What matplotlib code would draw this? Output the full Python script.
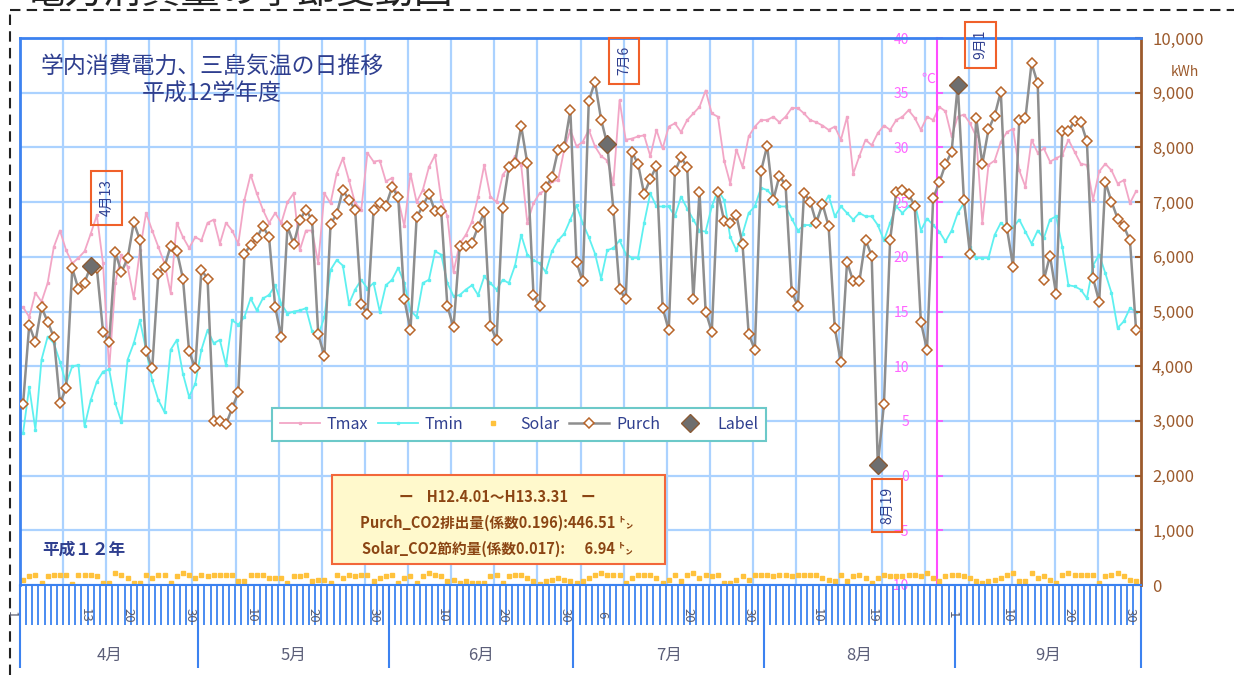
import matplotlib
matplotlib.use("Agg")
import matplotlib.pyplot as plt
import matplotlib.transforms as mtransforms
from matplotlib.lines import Line2D
from matplotlib.patches import Rectangle
import numpy as np

plt.rcParams['font.family'] = ['Noto Sans CJK JP', 'DejaVu Sans']

# daily values 4/2 .. 9/30 (kWh)
purch = [3310, 4750, 4440, 5080, 4810, 4530, 3320, 3600, 5790, 5410,
         5530, 5830, 5790, 4630, 4440, 6080, 5720, 5970, 6630, 6310,
         4270, 3960, 5690, 5820, 6200, 6110, 5600, 4270, 3960, 5760,
         5600, 2990, 2990, 2940, 3230, 3520, 6050, 6220, 6340, 6560,
         6360, 5080, 4530, 6560, 6230, 6670, 6860, 6670, 4580, 4190,
         6600, 6780, 7220, 7040, 6860, 5140, 4950, 6860, 6990, 6930,
         7270, 7100, 5220, 4660, 6720, 6930, 7150, 6830, 6830, 5100,
         4710, 6200, 6200, 6250, 6550, 6810, 4740, 4480, 6900, 7640,
         7710, 8390, 7710, 5310, 5100, 7280, 7450, 7950, 8010, 8680,
         5900, 5550, 8850, 9200, 8510, 8060, 6860, 5410, 5220, 7920,
         7700, 7150, 7420, 7660, 5070, 4660, 7560, 7820, 7640, 5220,
         7190, 5000, 4630, 7190, 6660, 6620, 6760, 6230, 4590, 4300,
         7560, 8030, 7040, 7480, 7310, 5360, 5100, 7160, 7010, 6620,
         6970, 6560, 4700, 4070, 5910, 5550, 5550, 6310, 6020, 2190,
         3310, 6310, 7190, 7230, 7150, 6930, 4810, 4300, 7070, 7360,
         7690, 7920, 9140, 7040, 6050, 8540, 7700, 8330, 8580, 9020,
         6520, 5820, 8510, 8530, 9540, 9170, 5580, 6020, 5320, 8300,
         8300, 8480, 8470, 8110, 5610, 5180, 7370, 7010, 6700, 6560,
         6300, 4660]

solar = [100, 160, 190, 40, 160, 190, 190, 190, 10, 190, 190, 190, 160, 40, 40, 220, 190, 130, 40, 40,
         190, 130, 190, 190, 40, 160, 220, 190, 130, 190, 160, 190, 190, 190, 190, 70, 70, 190, 190, 190,
         130, 130, 130, 40, 160, 160, 190, 70, 100, 100, 40, 190, 130, 190, 160, 190, 190, 70, 130, 160,
         190, 40, 130, 160, 40, 160,
         220, 190, 160, 70, 100, 40, 70, 40, 40, 40, 160, 190, 40, 160, 190, 190, 130, 70, 10, 70,
         100, 130, 100, 70, 40, 70, 130, 190, 220, 190, 190, 190, 40, 130, 190, 190, 190, 130, 40, 100,
         190, 70, 190, 220, 130, 190, 160, 190, 40, 40, 100, 160, 100, 190, 190, 190, 160, 190, 190, 160,
         190, 190, 190, 190, 130, 100, 70,
         190, 70, 160, 190, 130, 40, 130, 190, 160, 160, 160, 190, 190, 160, 220, 130, 70, 160, 190, 190,
         160, 130, 70, 40, 70, 100, 130, 190, 220, 70, 70, 220, 130, 160, 100, 40, 190, 220, 190, 190,
         190, 190, 40, 160, 190, 220, 160, 100, 70]

# Mishima daily max / min temperature (deg C)
tmax = [15.4, 14.5, 16.7, 15.9, 17.6, 20.9, 22.4, 20.6, 19.4, 19.9,
        20.5, 22.1, 23.8, 19.4, 9.7, 17.6, 20.2, 19.1, 16.2, 20.6,
        24.0, 22.4, 20.9, 19.4, 16.7, 23.1, 21.8, 20.8, 21.8, 21.5,
        23.1, 23.4, 21.2, 23.1, 22.4, 21.2, 25.2, 27.5, 25.8, 24.3,
        23.1, 24.0, 23.1, 25.0, 25.8, 20.6, 22.4, 22.4, 19.4, 25.8,
        24.9, 27.6, 29.0, 27.0, 24.9, 24.3, 29.5, 28.7, 28.8, 26.9,
        27.2, 25.3, 22.8, 27.6, 25.0, 26.1, 28.2, 29.3, 25.2, 23.7,
        18.6, 21.2, 22.0, 23.2, 25.5, 28.4, 25.5, 25.0, 27.5, 28.2,
        29.2, 28.4, 23.1, 24.9, 25.8, 26.1, 26.9, 27.0, 29.8, 31.6,
        30.1, 30.5, 31.6, 30.1, 29.2, 28.8, 26.7, 34.3, 30.7, 30.8,
        31.0, 31.1, 29.2, 31.6, 29.9, 31.9, 32.2, 31.4, 32.5, 33.1,
        33.7, 35.2, 33.1, 32.8, 28.8, 26.7, 29.8, 28.2, 31.0, 31.9,
        32.5, 32.5, 32.8, 32.3, 32.8, 33.6, 33.6, 33.1, 32.5, 32.3,
        32.0, 31.6, 31.9, 30.7, 32.8, 27.6, 29.2, 30.7, 30.2, 31.3,
        32.0, 31.6, 32.5, 32.8, 33.4, 32.7, 31.6, 32.8, 32.5, 33.7,
        33.3, 31.0, 32.8, 33.0, 32.2, 31.0, 23.1, 28.4, 28.8, 30.5,
        31.4, 31.7, 27.9, 26.4, 30.7, 29.5, 29.9, 28.7, 29.0, 29.3,
        30.7, 29.6, 28.5, 28.4, 25.2, 27.8, 28.5, 27.9, 26.7, 27.0,
        24.9, 26.0]

tmin = [3.9, 8.1, 4.2, 10.6, 12.7, 12.1, 10.4, 8.4, 10.0, 10.1,
        4.5, 6.9, 8.6, 9.5, 9.7, 6.6, 4.9, 10.6, 12.1, 14.2,
        11.5, 8.7, 6.9, 5.8, 11.5, 12.4, 9.3, 7.2, 8.4, 11.5,
        13.3, 12.1, 12.4, 10.1, 14.2, 13.8, 14.5, 16.2, 15.1, 16.2,
        16.5, 17.4, 15.7, 14.8, 15.0, 15.1, 15.3, 13.2, 12.8, 14.5,
        18.8, 19.7, 19.2, 15.7, 17.0, 17.9, 17.1, 17.6, 15.0, 17.4,
        17.9, 19.0, 17.6, 15.1, 14.5, 17.6, 17.9, 20.5, 20.2, 17.6,
        16.4, 16.5, 17.0, 17.4, 16.5, 18.2, 17.6, 17.0, 17.9, 17.6,
        19.2, 22.0, 20.2, 19.7, 19.4, 18.6, 20.5, 21.5, 22.1, 23.4,
        24.7, 23.1, 21.8, 20.3, 18.0, 20.6, 20.8, 21.5, 20.3, 19.9,
        19.9, 23.1, 25.8, 24.6, 24.6, 24.6, 23.7, 25.5, 24.4, 23.4,
        22.4, 22.3, 24.6, 26.1, 25.2, 21.8, 20.6, 22.1, 24.0, 24.6,
        26.3, 26.1, 25.5, 24.6, 24.6, 23.5, 22.4, 22.9, 22.9, 23.4,
        24.6, 25.6, 23.7, 24.6, 24.0, 23.4, 24.0, 23.7, 23.7, 22.9,
        21.5, 23.1, 24.6, 24.0, 24.6, 25.0, 22.4, 23.5, 22.9, 22.3,
        21.4, 22.4, 24.0, 24.9, 20.9, 19.9, 19.9, 19.9, 22.0, 23.1,
        22.6, 22.7, 23.4, 22.3, 21.2, 22.4, 21.7, 23.4, 23.7, 20.9,
        17.4, 17.3, 17.0, 16.2, 19.2, 20.2, 18.5, 16.7, 13.5, 14.1,
        15.3, 15.0]

# days counted from 4/1 = 0
label_days = [12, 96, 140, 153]
label_text = ['4月13', '7月6', '8月19', '9月1']
tick_days = [0, 12, 19, 29, 39, 49, 59, 70, 80, 90, 96, 110, 120, 131, 140, 153, 162, 172, 182]
tick_text = ['1', '13', '20', '30', '10', '20', '30', '10', '20', '30', '6',
             '20', '30', '10', '19', '1', '10', '20', '30']
months = ['4月', '5月', '6月', '7月', '8月', '9月']
month_days = [30, 31, 30, 31, 31, 30]
kwh_ticks = np.arange(0, 10001, 1000)
temp_ticks = np.arange(-10, 41, 5)

BLUE = '#3c82f0'
GRID = '#abd2ff'
NAVY = '#2f3f8f'
BROWN = '#9c5a2c'
PINK = '#f2a6c6'
CYAN = '#5ef0f0'
MAG = '#ff4cff'

days = np.arange(1, len(purch) + 1)
label_vals = [purch[d - 1] for d in label_days]
x0, x1 = 0.5, 182.8

fig = plt.figure(figsize=(12.34, 6.75), dpi=100)
ax = fig.add_axes([20 / 1234, 90 / 675, 1121 / 1234, 547 / 675])
ax2 = ax.twinx()
ax.set_zorder(2)
ax2.set_zorder(1)
ax.patch.set_visible(False)

# temperature axis (underneath), carries the grid
ax2.set_ylim(-10, 40)
ax2.set_yticks(temp_ticks)
ax2.yaxis.set_ticks_position('left')
ax2.spines['left'].set_position(('axes', (937 - 20) / 1121))
ax2.spines['left'].set_color(MAG)
ax2.spines['left'].set_linewidth(1.5)
for s in ['right', 'top', 'bottom']:
    ax2.spines[s].set_visible(False)
ax2.tick_params(axis='y', colors=MAG, labelcolor='#ff66ff', direction='in',
                length=4, width=1.2, labelsize=10, pad=20)
ax2.set_axisbelow(True)
ax2.grid(axis='y', color=GRID, lw=1.6)
for gx in np.linspace(x0, x1, 27)[1:-1]:
    ax2.axvline(gx, color=GRID, lw=1.6, zorder=0.5)
l_tmax, = ax2.plot(days, tmax, color=PINK, lw=1.3, marker='s', ms=1.6, label='Tmax')
l_tmin, = ax2.plot(days, tmin, color=CYAN, lw=1.3, marker='s', ms=1.6, label='Tmin')
ax2.text((928 - 20) / 1121, (585 - 79) / 547, '℃', transform=ax2.transAxes,
         color='#ff66ff', fontsize=10, ha='center', va='center')

# kWh axis
ax.set_xlim(x0, x1)
ax.set_ylim(0, 10000)
ax.yaxis.tick_right()
ax.set_yticks(kwh_ticks, labels=[f'{v:,}' for v in kwh_ticks])
ax.tick_params(axis='y', colors=BROWN, direction='in', length=4, width=1.5,
               labelsize=12, pad=8)
for s in ['left', 'top']:
    ax.spines[s].set_color(BLUE)
    ax.spines[s].set_linewidth(2)
ax.spines['bottom'].set_color(BLUE)
ax.spines['bottom'].set_linewidth(1.5)
ax.spines['right'].set_color(BROWN)
ax.spines['right'].set_linewidth(2)

edges = np.concatenate([[-0.5], -0.5 + np.cumsum(month_days)])
edges[0], edges[-1] = x0, x1
ax.set_xticks(edges, labels=[''] * len(edges))
ax.set_xticks(np.arange(1.5, 182.5, 1), minor=True)
ax.tick_params(axis='x', which='major', length=60, width=1.5, color=BLUE)
ax.tick_params(axis='x', which='minor', length=29, width=1.3, color=BLUE)

l_solar, = ax.plot(days, solar, ls='none', marker='s', ms=2.6, color='#ffc23c', label='Solar')
l_purch, = ax.plot(days, purch, color='#8e8e8e', lw=1.8, marker='D', ms=5,
                   mfc='white', mec='#b8652a', mew=1.1, label='Purch', zorder=3)
l_label, = ax.plot(label_days, label_vals, ls='none', marker='D', ms=9,
                   mfc='#6e6e6e', mec='#8a5a35', label='Label', zorder=4)

# rotated date boxes next to the labelled points
offsets = [(11.5, 49), (12, 60), (6.5, -29), (16.5, 29)]
for d, v, t, off in zip(label_days, label_vals, label_text, offsets):
    ax.annotate(t, xy=(d, v), xytext=off, textcoords='offset points',
                rotation=90, ha='center', va='center', fontsize=10, color=NAVY,
                bbox=dict(boxstyle='square,pad=0.6', fc='none', ec='#f0602a', lw=1.5),
                annotation_clip=False, zorder=6)

# day labels inside the tick comb, month names below
trans = mtransforms.offset_copy(ax.get_xaxis_transform(), fig=fig, x=-4, units='points')
for d, t in zip(tick_days, tick_text):
    ax.text(d, -0.055, t, transform=trans, rotation=-90, ha='center', va='center',
            fontsize=9.5, color='#5a5d70', clip_on=False)
for m, a, b in zip(months, edges[:-1], edges[1:]):
    ax.text((a + b) / 2, -0.128, m, transform=ax.get_xaxis_transform(),
            ha='center', va='center', fontsize=12, color='#5b5e78')

leg = ax.legend([l_tmax, l_tmin, l_solar, l_purch, l_label],
                ['Tmax', 'Tmin', 'Solar', 'Purch', 'Label'],
                ncol=5, loc='center', bbox_to_anchor=(0.445, 0.2934),
                fancybox=False, framealpha=1, edgecolor='#6cc9c9', fontsize=11.5,
                handlelength=2.5, handletextpad=0.45, columnspacing=0.6,
                borderpad=0.5, labelcolor=NAVY)
leg.get_frame().set_linewidth(1.5)
leg.set_zorder(7)

# CO2 note
ax.add_patch(Rectangle(((332 - 20) / 1121, (585 - 564) / 547), 333 / 1121, 89 / 547,
                       transform=ax.transAxes, fc='#fff9cc', ec='#f2673a', lw=1.5, zorder=7))
note = ['ー    H12.4.01～H13.3.31    ー',
        'Purch_CO2排出量(係数0.196):446.51 ㌧',
        'Solar_CO2節約量(係数0.017):      6.94 ㌧']
for k, line in enumerate(note):
    ax.text(0.4255, (585 - 497 - 26 * k) / 547, line, transform=ax.transAxes,
            ha='center', va='center', fontsize=10.5, fontweight='bold',
            color='#8b4513', zorder=8)

ax.text(0.1713, 0.9488, '学内消費電力、三島気温の日推移', transform=ax.transAxes,
        ha='center', va='center', fontsize=16.5, color=NAVY)
ax.text(0.1713, 0.8976, '平成12学年度', transform=ax.transAxes,
        ha='center', va='center', fontsize=16.5, color=NAVY)
ax.text(0.0571, 0.064, '平成１２年', transform=ax.transAxes,
        ha='center', va='center', fontsize=12, fontweight='bold', color=NAVY)
ax.text((1185 - 20) / 1121, (585 - 72) / 547, 'kWh', transform=ax.transAxes,
        ha='center', va='center', fontsize=10, color=BROWN)

# page frame and the heading above it, cut by the image top
fig.add_artist(Line2D([10 / 1234, 10 / 1234], [0, 1 - 10 / 675], transform=fig.transFigure,
                      color='#222222', lw=1.5, ls=(0, (5, 3))))
fig.add_artist(Line2D([10 / 1234, 1], [1 - 10 / 675] * 2, transform=fig.transFigure,
                      color='#222222', lw=1.5, ls=(0, (5, 3))))
fig.text(25 / 1234, 1.011, '電力消費量の季節変動図', fontsize=28, color='#222222',
         ha='left', va='center')

fig.savefig('out.png', dpi=100)
